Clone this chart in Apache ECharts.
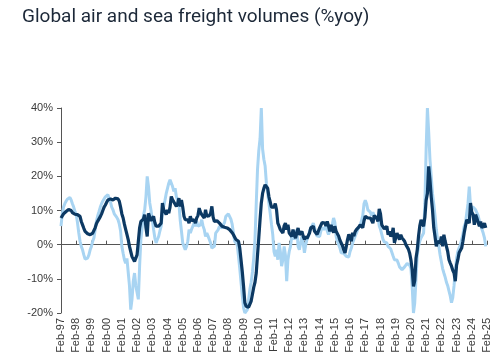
<!DOCTYPE html>
<html><head><meta charset="utf-8">
<script src="https://cdn.jsdelivr.net/npm/echarts@6/dist/echarts.min.js"></script>
<style>html,body{margin:0;padding:0;background:#fff}#c{width:500px;height:360px}</style>
</head><body><div id="c"></div><script>
const titleText = 'Global air and sea freight volumes (%yoy)';
const yMin = -20, yMax = 40, yStep = 10;
const startYear = 1997, endYear = 2025;
const monthNames = ['Feb','Mar','Apr','May','Jun','Jul','Aug','Sep','Oct','Nov','Dec','Jan'];
const categories = [];
for (let y = startYear; y <= endYear; y++) {
  for (let i = 0; i < 12; i++) {
    if (y === endYear && i > 0) break;
    const yr = i === 11 ? y + 1 : y;
    categories.push(monthNames[i] + '-' + String(yr % 100).padStart(2, '0'));
  }
}
// Sea freight / composite (dark), monthly Feb-97 .. Jan-25
const dark = [
7.8, 8.3, 9.0, 9.3, 9.7, 10.2, 10.3, 10.2, 10.0, 9.4, 9.0, 8.9,
8.8, 8.8, 8.6, 8.3, 6.8, 5.8, 4.8, 3.9, 3.4, 3.2, 3.0, 2.9,
3.1, 3.4, 3.8, 5.0, 6.2, 6.9, 7.3, 8.2, 9.0, 10.0, 11.0, 11.6,
12.4, 13.1, 13.6, 13.4, 13.3, 13.1, 13.3, 13.6, 13.9, 13.4, 12.7, 11.0,
9.0, 7.8, 6.0, 4.5, 3.0, 1.5, -0.5, -2.0, -3.5, -4.2, -4.9, -4.4,
-3.0, 1.0, 4.9, 6.8, 7.3, 7.5, 8.8, 5.0, 2.4, 9.2, 8.8, 7.0,
6.8, 8.3, 6.5, 5.4, 4.9, 5.4, 5.8, 6.3, 12.2, 10.2, 9.5, 8.8,
10.2, 9.2, 11.0, 14.1, 13.1, 12.5, 12.2, 11.2, 12.0, 13.6, 11.2, 13.1,
11.0, 8.3, 7.3, 7.5, 7.3, 6.3, 8.3, 7.0, 6.8, 7.3, 6.3, 7.8,
8.5, 10.7, 9.5, 8.8, 9.2, 7.8, 10.2, 8.3, 8.8, 8.5, 9.2, 11.2,
8.0, 6.8, 7.3, 7.0, 6.8, 6.3, 5.8, 5.4, 5.2, 5.1, 4.9, 4.9,
4.4, 4.4, 4.0, 3.5, 2.9, 2.2, 1.5, 1.5, 1.0, -1.0, -4.5, -8.0,
-12.2, -17.0, -18.0, -18.3, -18.3, -18.0, -16.5, -14.5, -12.5, -11.0, -8.3, -3.0,
2.0, 7.3, 12.2, 15.0, 16.5, 17.5, 17.3, 16.5, 14.0, 12.5, 11.0, 10.7,
11.0, 12.0, 10.2, 6.3, 5.4, 4.4, 3.9, 3.4, 5.5, 6.3, 4.4, 5.8,
3.4, 3.0, 2.4, 4.4, 2.9, 1.9, 3.5, 4.9, 2.9, 2.4, 3.9, 2.5,
1.5, 2.4, 1.8, 1.5, 3.4, 4.9, 5.0, 5.4, 3.9, 3.9, 3.0, 3.0,
4.9, 5.4, 6.5, 7.0, 6.3, 5.5, 6.8, 5.5, 3.9, 5.8, 4.5, 3.5,
5.4, 3.9, 3.2, 2.5, 1.3, 0.5, -0.3, -1.5, -2.4, -0.5, 1.5, 3.0,
2.5, 1.0, 3.5, 2.5, 3.8, 4.4, 4.9, 5.2, 5.8, 6.3, 5.0, 7.0,
8.3, 8.0, 7.8, 7.5, 7.8, 8.3, 6.3, 8.5, 8.3, 7.8, 6.8, 10.5,
9.0, 5.8, 5.4, 4.6, 5.0, 5.4, 2.9, 3.9, 2.4, 3.0, 4.9, 0.5,
2.0, 3.4, 2.4, 1.5, 2.9, 2.0, 2.0, 1.0, 0.0, -0.5, -1.3, -2.5,
-4.5, -7.3, -12.2, -10.5, -4.0, -1.5, 2.5, 5.5, 7.3, 6.0, 5.4, 8.0,
13.0, 15.0, 22.9, 19.0, 14.0, 10.2, 5.0, 2.4, -0.5, 1.0, 1.5, 0.5,
2.4, -0.5, 2.9, 1.0, -0.5, -2.0, -4.4, -5.4, -6.3, -7.5, -8.3, -10.7,
-6.0, -4.4, -2.4, -1.9, -1.0, 1.0, 3.4, 5.4, 7.3, 6.8, 6.3, 12.2,
9.5, 8.8, 5.8, 8.8, 7.8, 6.5, 5.4, 6.8, 4.9, 5.5, 6.3, 4.9
];
// Air freight (light), monthly Feb-97 .. Jan-25
const light = [
5.4, 9.0, 11.0, 12.0, 12.7, 13.3, 13.6, 13.8, 13.1, 12.0, 11.0, 9.8,
8.8, 6.5, 3.5, 1.0, -0.5, -1.5, -3.0, -4.2, -4.0, -3.9, -3.0, -1.5,
-0.5, 1.0, 2.0, 4.5, 7.0, 8.5, 9.7, 11.0, 12.0, 12.8, 13.2, 14.0,
14.5, 14.6, 13.5, 12.5, 11.0, 10.2, 9.0, 8.5, 8.0, 7.3, 6.0, 4.0,
-0.5, -2.5, -4.4, -5.4, -4.0, -8.0, -12.0, -19.0, -16.0, -10.7, -8.3, -12.0,
-14.0, -16.0, -6.3, 1.5, 5.0, 8.5, 10.2, 14.0, 20.0, 17.0, 12.2, 10.0,
7.3, 4.5, 2.0, 0.5, 1.5, 2.4, 4.0, 5.4, 9.2, 11.2, 13.0, 15.0,
16.5, 18.0, 19.0, 18.5, 17.0, 15.6, 16.5, 14.0, 13.5, 12.0, 7.3, 4.0,
0.5, -0.5, -1.5, -0.5, 1.0, 4.4, 3.4, 4.5, 5.4, 6.3, 5.4, 6.8,
5.4, 5.4, 5.8, 7.3, 5.5, 4.4, 2.4, 3.4, 2.5, 1.5, 0.5, -1.0,
-0.5, -0.5, 3.4, 3.4, 4.4, 5.4, 5.0, 4.9, 5.8, 6.5, 8.3, 8.8,
9.0, 8.5, 7.5, 6.0, 3.4, 1.0, 0.5, 0.0, -3.4, -7.0, -11.0, -15.0,
-18.5, -20.0, -19.5, -19.0, -16.0, -13.0, -11.0, -8.0, -4.0, 1.5, 12.0, 22.0,
27.5, 31.0, 40.0, 28.0, 25.0, 23.0, 18.0, 15.0, 12.0, 9.2, 6.0, 3.0,
-2.0, -3.4, -1.5, -4.4, 0.5, -2.0, -6.3, -4.4, -0.5, -3.0, -10.7, -4.4,
-2.0, -0.5, 2.4, 3.4, 1.5, 3.0, 4.4, -0.5, -1.5, 0.5, 2.4, 0.5,
-2.4, 0.0, 1.5, 2.4, 3.9, 4.9, 5.5, 6.3, 4.9, 3.4, 2.5, 2.4,
2.4, 4.0, 5.0, 4.5, 4.4, 6.0, 4.0, 3.0, 3.9, 5.0, 6.0, 7.8,
6.5, 2.4, 1.0, 0.0, -1.0, -2.4, -2.0, -2.5, -3.0, -3.4, -3.9, -3.6,
-2.0, -1.0, 0.5, 1.5, 2.0, 3.4, 4.4, 5.2, 5.8, 7.0, 8.5, 12.0,
13.0, 12.0, 10.2, 10.0, 9.5, 8.5, 9.5, 9.0, 7.5, 7.0, 8.3, 5.5,
4.5, 3.0, 1.5, 0.8, 0.8, 0.5, -0.5, -0.8, -1.2, -1.5, -3.4, -4.4,
-4.4, -4.5, -5.4, -6.5, -7.0, -7.3, -6.8, -6.5, -6.0, -5.5, -5.0, -6.0,
-7.0, -12.2, -20.0, -17.0, -10.0, -3.0, -0.5, 1.0, 2.0, 2.4, 3.4, 12.0,
28.0, 40.0, 33.0, 25.0, 20.0, 15.0, 12.0, 8.5, 4.5, 1.5, -0.5, -3.0,
-5.0, -7.0, -8.3, -9.5, -11.0, -12.0, -13.5, -15.0, -17.0, -15.5, -12.0, -8.0,
-4.0, -2.0, -1.0, 0.0, 1.5, 3.0, 5.4, 6.3, 9.2, 12.0, 17.0, 11.2,
11.2, 11.0, 10.8, 10.2, 10.0, 8.5, 7.0, 5.5, 4.5, 3.4, 2.0, -0.5
];
const axisColor = '#555';
const chart = echarts.init(document.getElementById('c'), null, {renderer: 'canvas'});
chart.setOption({
  animation: false,
  backgroundColor: '#fff',
  title: {
    text: titleText, left: 17, top: 3,
    textStyle: {fontFamily: 'Roboto', fontSize: 19, fontWeight: 'normal', color: '#1c2838'}
  },
  grid: {left: 61, right: 13, top: 108, bottom: 47, containLabel: false},
  xAxis: [
    {
      type: 'category', data: categories, boundaryGap: false, position: 'bottom',
      axisLine: {show: false, onZero: false},
      axisTick: {show: false},
      axisLabel: {interval: 11, rotate: 90, fontSize: 11, fontFamily: 'Liberation Sans', color: '#3a3a3a', margin: 5}
    },
    {
      type: 'category', data: categories, boundaryGap: false, position: 'bottom',
      axisLine: {show: true, onZero: true, lineStyle: {color: axisColor, width: 1}},
      axisTick: {show: true, inside: true, interval: 11, length: 4, lineStyle: {color: axisColor}},
      axisLabel: {show: false}
    }
  ],
  yAxis: {
    type: 'value', min: yMin, max: yMax, interval: yStep,
    axisLine: {show: true, lineStyle: {color: axisColor, width: 1}},
    axisTick: {show: true, length: 4, lineStyle: {color: axisColor}},
    splitLine: {show: false},
    axisLabel: {formatter: '{value}%', fontSize: 11, fontFamily: 'Liberation Sans', color: '#3a3a3a', margin: 8}
  },
  series: [
    {type: 'line', name: 'Air', data: light, xAxisIndex: 0, showSymbol: false, symbol: 'none', clip: false,
     lineStyle: {color: '#a8d4f2', width: 3}, z: 2},
    {type: 'line', name: 'Sea', data: dark, xAxisIndex: 0, showSymbol: false, symbol: 'none', clip: false,
     lineStyle: {color: '#0c3963', width: 3.2}, z: 3}
  ]
});
</script></body></html>
